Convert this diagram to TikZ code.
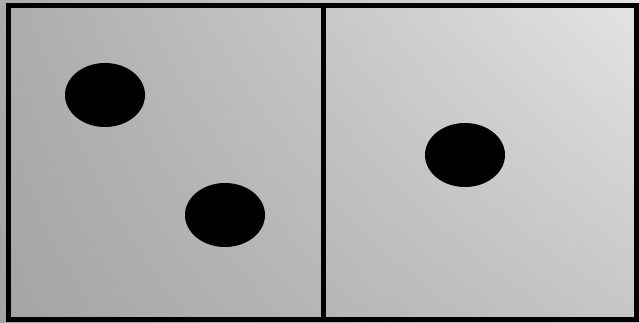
\documentclass[tikz,border=0pt]{standalone}
\usetikzlibrary{shapes.geometric,shadings}
\definecolor{cul}{RGB}{172,172,172}
\definecolor{cur}{RGB}{228,228,228}
\definecolor{cll}{RGB}{164,164,164}
\definecolor{clr}{RGB}{198,198,198}
\begin{document}
\begin{tikzpicture}[x=1pt,y=-1pt,
  frame/.style={draw=black,line width=5pt},
  dot/.style={ellipse,fill=black,draw=none,minimum width=80pt,minimum height=64pt,inner sep=0pt}]
\useasboundingbox (0,0) rectangle (639,323);
\shade[upper left=cul,upper right=cur,lower left=cll,lower right=clr] (0,0) rectangle (639,323);
\draw[frame] (8.5,5.5) rectangle (636.5,319.5);
\draw[frame] (323,5.5) -- (323,319.5);
\node[dot] (d1) at (105,95) {};
\node[dot] (d2) at (225,215) {};
\node[dot] (d3) at (465,155) {};
\end{tikzpicture}
\end{document}
